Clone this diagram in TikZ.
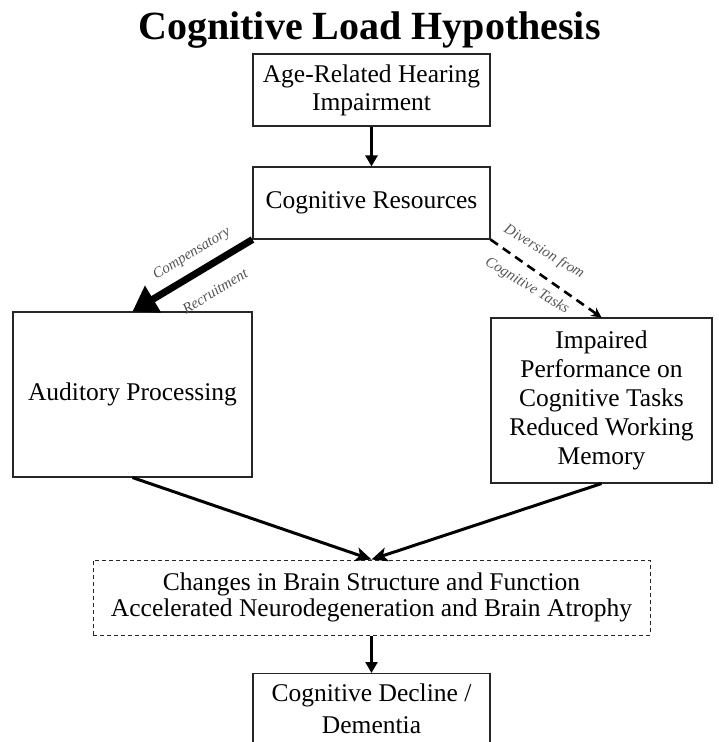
\documentclass[tikz,border=0pt]{standalone}
\usepackage{fontspec}
\setmainfont{Liberation Serif}
\usetikzlibrary{arrows.meta,calc}
\newcommand\myboxfont{\fontsize{25.5}{28}\selectfont}
\newcommand\mylabfont{\fontsize{15}{16}\selectfont\itshape}
\definecolor{labgray}{HTML}{555555}
\tikzset{
  box/.style={draw=black!85, line width=1.1pt, align=center, font=\myboxfont, inner sep=0pt},
  lab/.style={font=\mylabfont, text=labgray, inner sep=0pt},
  arr/.style={line width=2.5pt, -{Triangle[length=11pt,width=12pt]}},
  bigarr/.style={line width=7pt, -{Triangle[length=24pt,width=30pt]}},
  dasharr/.style={line width=2.6pt, dash pattern=on 9pt off 6pt, -{Stealth[length=10pt,width=10pt]}},
  convarr/.style={line width=3pt, -{Stealth[length=16pt,width=14pt,inset=4pt]}}
}
\begin{document}
\begin{tikzpicture}[x=1pt,y=-1pt]
\useasboundingbox (0,0) rectangle (719,742);
\clip (0,0) rectangle (719,742);
\node[font=\fontsize{40}{44}\selectfont\bfseries, anchor=base, inner sep=0pt] (title) at (369.5,39) {Cognitive Load Hypothesis};
\node[box, minimum width=237pt, minimum height=72pt] (hear) at (371.5,90) {Age-Related Hearing\\Impairment};
\node[box, minimum width=237pt, minimum height=72pt] (res) at (371.5,203) {Cognitive Resources};
\node[box, minimum width=239pt, minimum height=165pt] (aud) at (132.5,394.5) {Auditory Processing};
\node[box, minimum width=221pt, minimum height=165pt, font=\fontsize{25.5}{29}\selectfont] (imp) at (601.5,400.5) {Impaired\\Performance on\\Cognitive Tasks\\Reduced Working\\Memory};
\node[box, dashed, dash pattern=on 4pt off 3pt, line width=1pt, minimum width=557pt, minimum height=75pt, font=\fontsize{25.5}{26.5}\selectfont] (chg) at (371.5,597.5) {Changes in Brain Structure and Function\\Accelerated Neurodegeneration and Brain Atrophy};
\node[box, minimum width=237pt, minimum height=71pt, anchor=north, font=\fontsize{25.5}{32}\selectfont] (dem) at (371.5,673) {Cognitive Decline /\\Dementia};

\draw[arr] (hear) -- (res);
\draw[bigarr] (res.south west) -- (aud.north);
\draw[dasharr] (res.south east) -- (imp.north);
\draw[convarr] (aud.south) -- (chg.north);
\draw[convarr] (imp.south) -- (chg.north);
\draw[arr] (chg) -- (dem);

\node[lab, rotate=31.5] (l1) at (192,254) {Compensatory};
\node[lab, rotate=31.5] (l2) at (215,291) {Recruitment};
\node[lab, rotate=-31] (l3) at (544,252) {Diversion from};
\node[lab, rotate=-31] (l4) at (527,286) {Cognitive Tasks};
\end{tikzpicture}
\end{document}
